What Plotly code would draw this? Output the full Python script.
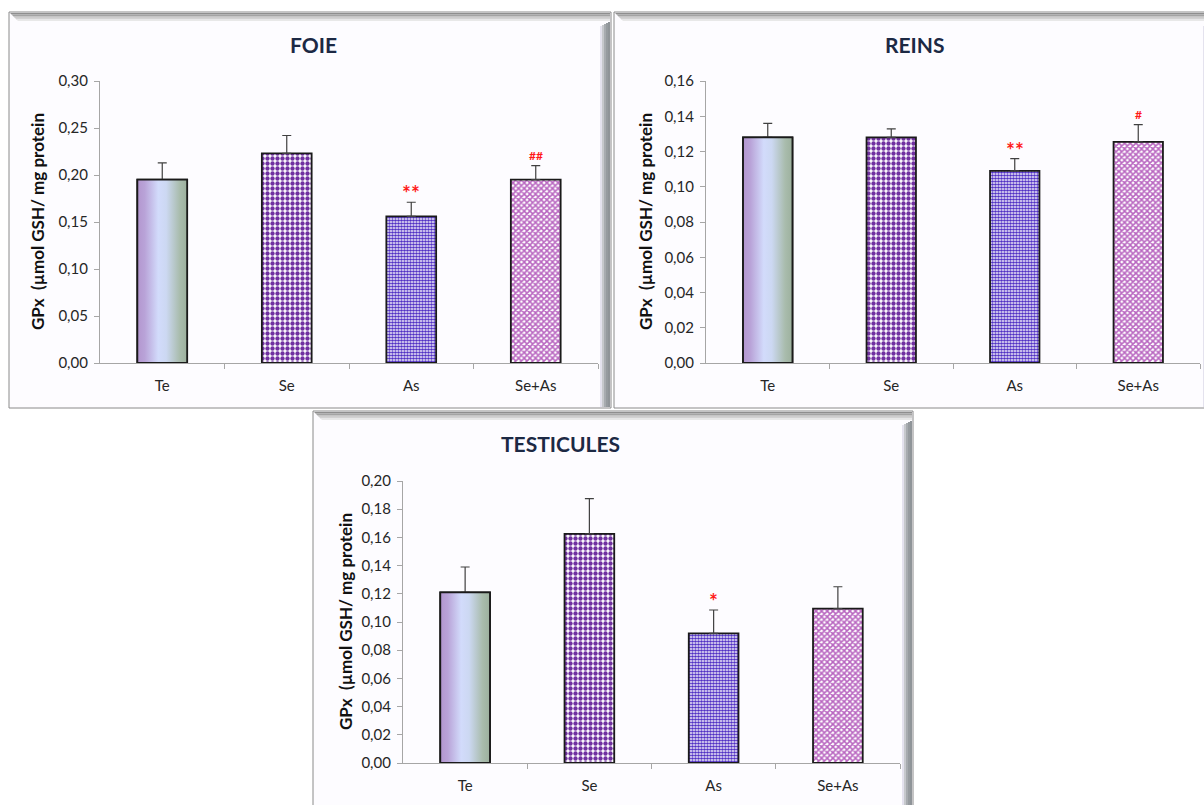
import plotly.graph_objects as go

W, H = 1204, 805

categories = ["Te", "Se", "As", "Se+As"]

foie_mean = [0.195, 0.223, 0.156, 0.195]
foie_err = [0.018, 0.019, 0.015, 0.015]
foie_sig = ["", "", "**", "##"]

reins_mean = [0.128, 0.128, 0.109, 0.1255]
reins_err = [0.008, 0.0048, 0.007, 0.0098]
reins_sig = ["", "", "**", "#"]

test_mean = [0.121, 0.1625, 0.092, 0.1095]
test_err = [0.018, 0.025, 0.0165, 0.0155]
test_sig = ["", "", "*", ""]

titles = ["FOIE", "REINS", "TESTICULES"]
y_title = "GPx  (µmol GSH/ mg protein"

FONT = "Lato"
BAR_W = 0.4

# per-category fill styles: (shape, fgcolor, size, solidity)
styles = [
    None,
    (".", "#7030a0", 5, 0.6),
    (".", "#5030c4", 3, 0.65),
    ("x", "#b865c0", 4, 0.62),
]


def px(x):
    return x / W


def py(y):
    return 1 - y / H


panels = [
    dict(mean=foie_mean, err=foie_err, sig=foie_sig, title=titles[0],
         xd=(100, 598), yd=(81, 363), rng=[0, 0.30], dtick=0.05,
         frame=(9, 12, 611, 408), title_x=313, title_y=45, ylab_x=37),
    dict(mean=reins_mean, err=reins_err, sig=reins_sig, title=titles[1],
         xd=(706, 1200), yd=(81, 363), rng=[0, 0.16], dtick=0.02,
         frame=(614, 12, 1214, 408), title_x=915, title_y=45, ylab_x=645),
    dict(mean=test_mean, err=test_err, sig=test_sig, title=titles[2],
         xd=(403, 900), yd=(481, 763), rng=[0, 0.20], dtick=0.02,
         frame=(313, 411, 913, 815), title_x=560, title_y=443, ylab_x=345),
]

fig = go.Figure()
shapes = []
annotations = []

for i, p in enumerate(panels):
    sfx = "" if i == 0 else str(i + 1)
    xa, ya = "x" + sfx, "y" + sfx
    xidx = list(range(len(categories)))

    for j in xidx:
        st = styles[j]
        if st is None:
            marker = dict(color="rgba(255,255,255,0)",
                          line=dict(color="#1a1a1a", width=1.8))
        else:
            marker = dict(color="white",
                          line=dict(color="#1a1a1a", width=1.8),
                          pattern=dict(shape=st[0], fgcolor=st[1], bgcolor="white",
                                       size=st[2], solidity=st[3], fillmode="replace"))
        fig.add_trace(go.Bar(
            x=[xidx[j]], y=[p["mean"][j]], width=BAR_W, xaxis=xa, yaxis=ya,
            marker=marker,
            error_y=dict(type="data", symmetric=False, array=[p["err"][j]],
                         arrayminus=[0], color="#404040", thickness=1.2, width=4.5),
            showlegend=False, hoverinfo="skip",
        ))

    # Te gradient bar
    v0 = p["mean"][0]
    x0 = xidx[0]
    fig.add_trace(go.Scatter(
        x=[x0 - BAR_W / 2, x0 + BAR_W / 2, x0 + BAR_W / 2, x0 - BAR_W / 2, x0 - BAR_W / 2],
        y=[0, 0, v0, v0, 0], xaxis=xa, yaxis=ya,
        mode="lines", fill="toself",
        fillgradient=dict(type="horizontal", colorscale=[
            [0.0, "#b396cf"], [0.15, "#b9a3d8"], [0.42, "#d2dbfb"],
            [0.58, "#ccd8f2"], [0.85, "#a9bcad"], [1.0, "#9cb09d"]]),
        line=dict(color="#1a1a1a", width=1.8),
        showlegend=False, hoverinfo="skip",
    ))

    xd = [px(p["xd"][0]), px(p["xd"][1])]
    yd = [py(p["yd"][1]), py(p["yd"][0])]
    fig.layout["xaxis" + sfx] = dict(
        domain=xd, anchor=ya, range=[-0.5, 3.5], automargin=False,
        tickvals=xidx, ticktext=categories, ticks="",
        showgrid=False, zeroline=False, showline=True,
        linecolor="#a6a6a6", linewidth=1.2,
        tickfont=dict(family=FONT, size=15, color="#262626"),
        ticklabelstandoff=9,
        minor=dict(tickvals=[0.5, 1.5, 2.5, 3.5], ticks="outside",
                   ticklen=5, tickcolor="#a6a6a6", tickwidth=1, showgrid=False),
        fixedrange=True,
    )
    fig.layout["yaxis" + sfx] = dict(
        domain=yd, anchor=xa, range=p["rng"], dtick=p["dtick"], tick0=0,
        automargin=False,
        tickformat=".2f", ticks="outside", ticklen=5, tickcolor="#a6a6a6",
        showgrid=False, zeroline=False, showline=True,
        linecolor="#a6a6a6", linewidth=1.2,
        tickfont=dict(family=FONT, size=15, color="#262626"),
        ticklabelstandoff=3, fixedrange=True,
    )

    # significance marks
    for j, s in enumerate(p["sig"]):
        if s:
            star = "*" in s
            annotations.append(dict(
                x=xidx[j], y=p["mean"][j] + p["err"][j], xref=xa, yref=ya,
                text="<b>%s</b>" % s, showarrow=False, yanchor="bottom",
                yshift=-5 if star else 1,
                font=dict(family=FONT, size=21 if star else 12, color="#ff1a1a")))

    # titles
    annotations.append(dict(
        x=px(p["title_x"]), y=py(p["title_y"]), xref="paper", yref="paper",
        xanchor="center", yanchor="middle",
        text="<b>%s</b>" % p["title"], showarrow=False,
        font=dict(family=FONT, size=21, color="#1c2944")))
    # y axis title
    annotations.append(dict(
        x=px(p["ylab_x"]), y=(yd[0] + yd[1]) / 2, xref="paper", yref="paper",
        xanchor="center", yanchor="middle",
        text="<b>%s</b>" % y_title, showarrow=False, textangle=-90,
        font=dict(family=FONT, size=17, color="#111111")))

    # frame
    L, T, R, B = p["frame"]
    shapes.append(dict(type="rect", xref="paper", yref="paper", layer="below",
                       x0=px(L), x1=px(R), y0=py(B), y1=py(T),
                       fillcolor="#fdfcff", line=dict(color="#8a8a8a", width=1)))
    top_cols = ["#8e8e8e", "#a3a3a3", "#bababa", "#d2d2d2", "#e8e8e8"]
    for k, c in enumerate(top_cols):
        shapes.append(dict(type="path", xref="paper", yref="paper", layer="below",
                           path="M %f %f L %f %f L %f %f L %f %f Z" % (
                               px(L + 1 + k * 1.6), py(T + 1 + k * 1.6),
                               px(R - 1), py(T + 1 + k * 1.6),
                               px(R - 1), py(T + 1 + (k + 1) * 1.6),
                               px(L + 1 + (k + 1) * 1.6), py(T + 1 + (k + 1) * 1.6)),
                           fillcolor=c, line=dict(width=0)))
    right_cols = ["#e4e2ee", "#c6c8cc", "#a7abaf", "#969b9f", "#8f9498"]
    for k, c in enumerate(right_cols):
        shapes.append(dict(type="rect", xref="paper", yref="paper", layer="below",
                           x0=px(R - 11 + k * 2), x1=px(R - 9 + k * 2),
                           y0=py(B - 1), y1=py(T + 9 + (5 - k)),
                           fillcolor=c, line=dict(width=0)))

fig.update_layout(
    width=W, height=H, margin=dict(l=0, r=0, t=0, b=0, autoexpand=False),
    paper_bgcolor="white", plot_bgcolor="rgba(0,0,0,0)",
    separators=", ", barmode="overlay",
    shapes=shapes, annotations=annotations, showlegend=False,
    font=dict(family=FONT),
)

fig.write_html(
    "out.html",
    config={"displayModeBar": False},
    post_script="document.body.style.margin='0px';document.body.style.overflow='hidden';",
)
